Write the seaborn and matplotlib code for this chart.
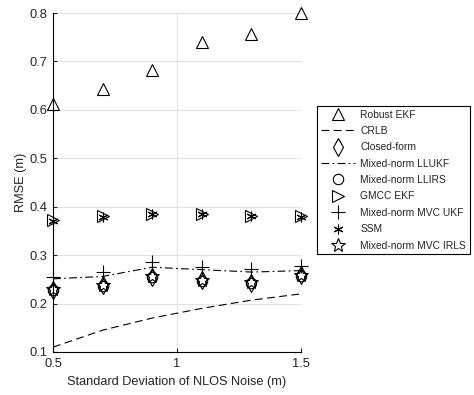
import matplotlib
matplotlib.use("Agg")
import matplotlib.pyplot as plt
import seaborn as sns
import numpy as np

sns.set_theme(style="white")
plt.rcParams["font.family"] = ["Liberation Sans", "DejaVu Sans"]

# NLOS noise standard deviations (m)
noise_std = [0.5, 0.7, 0.9, 1.1, 1.3, 1.5]

# RMSE (m) of each method
robust_ekf = [0.612, 0.644, 0.683, 0.741, 0.757, 0.800]
crlb = [0.110, 0.145, 0.170, 0.190, 0.207, 0.220]
closed_form = [0.228, 0.238, 0.255, 0.248, 0.243, 0.258]
llukf = [0.251, 0.256, 0.275, 0.270, 0.265, 0.268]
llirs = [0.228, 0.237, 0.254, 0.247, 0.242, 0.257]
gmcc_ekf = [0.372, 0.380, 0.385, 0.385, 0.380, 0.380]
mvc_ukf = [0.255, 0.265, 0.285, 0.275, 0.272, 0.278]
ssm = [0.371, 0.379, 0.385, 0.384, 0.380, 0.379]
mvc_irls = [0.229, 0.238, 0.256, 0.249, 0.244, 0.259]

x_ticks = [0.5, 1, 1.5]
x_tick_labels = ["0.5", "1", "1.5"]
y_ticks = [0.1, 0.2, 0.3, 0.4, 0.5, 0.6, 0.7, 0.8]
y_tick_labels = ["0.1", "0.2", "0.3", "0.4", "0.5", "0.6", "0.7", "0.8"]

fig = plt.figure(figsize=(4.74, 3.95), dpi=100)
ax = fig.add_axes([0.112, 0.109, 0.523, 0.858])

asterisk = (6, 2, 0)
series = [
    ("Robust EKF", robust_ekf, "^", "none", 9),
    ("CRLB", crlb, None, (0, (7, 4)), 0),
    ("Closed-form", closed_form, "d", "none", 9),
    ("Mixed-norm LLUKF", llukf, None, (0, (7, 3, 1.5, 3)), 0),
    ("Mixed-norm LLIRS", llirs, "o", "none", 7.5),
    ("GMCC EKF", gmcc_ekf, ">", "none", 9),
    ("Mixed-norm MVC UKF", mvc_ukf, "+", "none", 10),
    ("SSM", ssm, asterisk, "none", 7),
    ("Mixed-norm MVC IRLS", mvc_irls, "*", "none", 10),
]

for name, vals, mk, ls, ms in series:
    kw = dict(x=noise_std, y=vals, ax=ax, label=name, color="black",
              linewidth=0.8, errorbar=None, sort=False, clip_on=False)
    if mk is None:
        sns.lineplot(**kw, linestyle=ls)
    else:
        sns.lineplot(**kw, linestyle="none", marker=mk, markersize=ms,
                     markerfacecolor="none", markeredgecolor="black",
                     markeredgewidth=0.8)

ax.set_xlim(0.5, 1.5)
ax.set_ylim(0.1, 0.8)
ax.set_xticks(x_ticks)
ax.set_xticklabels(x_tick_labels)
ax.set_yticks(y_ticks)
ax.set_yticklabels(y_tick_labels)
ax.grid(True, color="#e3e3e3", linewidth=0.8)
ax.set_axisbelow(True)
for side in ["top", "right"]:
    ax.spines[side].set_visible(False)
for side in ["left", "bottom"]:
    ax.spines[side].set_color("black")
    ax.spines[side].set_linewidth(0.8)
ax.tick_params(direction="in", length=3, width=0.8, colors="#262626",
               labelsize=9.3, left=True, bottom=True, pad=4)
ax.set_xlabel("Standard Deviation of NLOS Noise (m)", fontsize=9.2,
              color="#262626", labelpad=5)
ax.set_ylabel("RMSE (m)", fontsize=9.2, color="#262626", labelpad=2)

leg = ax.legend(loc="upper left", bbox_to_anchor=(317 / 474, 1 - 106 / 395),
                bbox_transform=fig.transFigure, fontsize=7.4, frameon=True,
                fancybox=False, edgecolor="black", handlelength=3.3,
                labelspacing=0.62, borderpad=0.35, handletextpad=0.55,
                borderaxespad=0, framealpha=1)
leg.get_frame().set_linewidth(0.8)

fig.savefig("out.png", dpi=100)
